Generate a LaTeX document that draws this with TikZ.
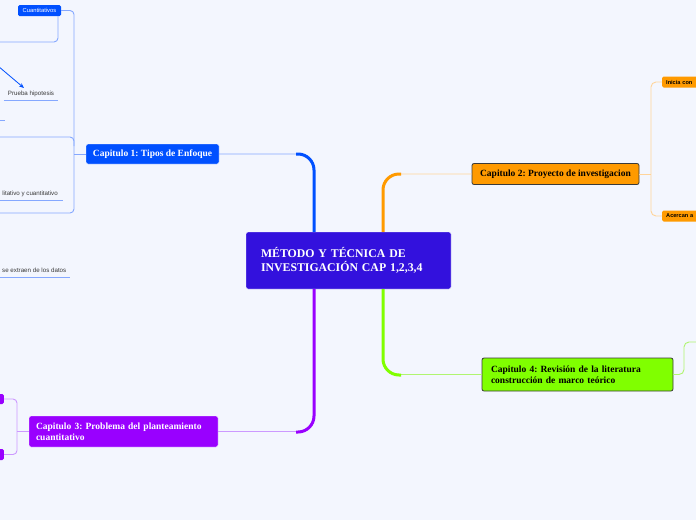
\documentclass[tikz,border=0pt]{standalone}
\usepackage{fontspec}
\setmainfont{Liberation Serif}
\newfontfamily\labfont{Liberation Sans}
\usetikzlibrary{calc,arrows.meta}
\definecolor{bg}{HTML}{F3F6FE}
\definecolor{cent}{HTML}{3311DD}
\definecolor{cblue}{HTML}{0050FF}
\definecolor{lblue}{HTML}{85A8FF}
\definecolor{corange}{HTML}{FF9A00}
\definecolor{lorange}{HTML}{FFD49A}
\definecolor{clime}{HTML}{80FF00}
\definecolor{llime}{HTML}{B0F570}
\definecolor{cpurple}{HTML}{9900FF}
\definecolor{lpurple}{HTML}{CC99FF}
\definecolor{labgray}{HTML}{3A3A3A}
\frenchspacing
\tikzset{
  chapbox/.style={rounded corners=2pt, inner sep=0pt, font=\frenchspacing\bfseries\fontsize{9.5}{11}\selectfont},
  smallbox/.style={rounded corners=1.5pt, inner sep=0pt, font=\labfont\bfseries\fontsize{5.6}{6.5}\selectfont},
  leaflab/.style={inner sep=0pt, font=\labfont\fontsize{6.2}{7}\selectfont, text=labgray},
  thinline/.style={line width=0.9pt},
  thickline/.style={line width=3pt, rounded corners=16pt},
}
\begin{document}
\begin{tikzpicture}[x=1pt,y=-1pt]
\fill[bg] (0,0) rectangle (696,520);
\useasboundingbox (0,0) rectangle (696,520);

% central node
\node[rounded corners=2pt, fill=cent, draw=white, line width=0.4pt, minimum width=205pt, minimum height=57pt,
      text width=175pt, align=left, text=white, inner xsep=15pt,
      font=\frenchspacing\bfseries\fontsize{11.8}{14}\selectfont] (c) at (348.5,260.5)
      {MÉTODO Y TÉCNICA DE\\INVESTIGACIÓN CAP 1,2,3,4};

% chapter nodes
\node[chapbox, fill=cblue, draw=white, line width=0.4pt, text=white, minimum width=133pt, minimum height=20pt] (c1) at (152.5,154) {Capitulo 1: Tipos de Enfoque};
\node[chapbox, fill=corange, draw=labgray, line width=0.8pt, text=black, minimum width=167pt, minimum height=21pt] (c2) at (555.5,174) {Capitulo 2: Proyecto de investigacion};
\node[chapbox, fill=cpurple, draw=white, line width=0.4pt, text=white, minimum width=189pt, minimum height=31pt, text width=175pt, align=left] (c3) at (123.5,431.5) {Capitulo 3: Problema del planteamiento\\cuantitativo};
\node[chapbox, fill=clime, draw=labgray, line width=0.8pt, text=black, minimum width=191pt, minimum height=33pt, text width=173pt, align=left] (c4) at (577.5,374.5) {Capitulo 4: Revisión de la literatura\\construcción de marco teórico};

% junction coordinates
\coordinate (j1) at (314,154);
\coordinate (j2) at (383,174);
\coordinate (k1) at (296,154);
\coordinate (k2) at (401,174);
\coordinate (k3) at (296,432);
\coordinate (k4) at (401,375);

% main connectors (thin light part)
\draw[lblue, thinline, rounded corners=16pt] (c1.east) -| (c.north -| j1);
\draw[lorange, thinline, rounded corners=16pt] (c2.west) -| (c.north -| j2);
\draw[lpurple, thinline, rounded corners=16pt] (c3.east) -| (c.south -| j1);
\draw[llime, thinline, rounded corners=16pt] (c4.west) -| (c.south -| j2);
% main connectors (thick part)
\draw[cblue, thickline] (c.north -| j1) |- (k1);
\draw[corange, thickline] (c.north -| j2) |- (k2);
\draw[cpurple, thickline] (c.south -| j1) |- (k3);
\draw[clime, thickline] (c.south -| j2) |- (k4);

% ---- Chapter 1 subtree ----
\node[smallbox, fill=cblue, text=white, font=\labfont\fontsize{5.8}{6.5}\selectfont, minimum width=43pt, minimum height=11pt] (q) at (39.5,10.5) {Cuantitativos};
\coordinate (b1top) at (74,10.5);
\coordinate (b1bot) at (74,213);
\coordinate (m1) at (-5,213);
\coordinate (m2) at (-5,137);
\coordinate (q1) at (58,16);
\coordinate (q2) at (-5,42);
\draw[lblue, thinline] (c1.west) -- (c1.west -| b1top);
\draw[lblue, thinline, rounded corners=4pt] (q.east) -- (b1top) -- (b1bot) -- (m1);
\draw[lblue, thinline, rounded corners=4pt] (m2) -- (74,137) -- (74,146);
\draw[lblue, thinline, rounded corners=4pt] (q1) -- (58,42) -- (q2);

\coordinate (a0) at (-2,66);
\coordinate (a1) at (24,88);
\draw[cblue, line width=0.8pt, -{Stealth[length=5pt,width=4pt]}] (a0) -- (a1);

\node[leaflab, minimum width=54pt, minimum height=12pt] (ph) at (31,94) {Prueba hipotesis};
\draw[lblue, thinline] (ph.south west) -- (ph.south east);

\coordinate (s0) at (-2,120);
\coordinate (s1) at (5,120);
\draw[lblue, thinline] (s0) -- (s1);

\node[leaflab, anchor=east] (mx) at (58,193.5) {litativo y cuantitativo};
\coordinate (u0) at (-2,200);
\coordinate (u1) at (63,200);
\draw[lblue, thinline] (u0) -- (u1);

\node[leaflab, anchor=west] (ex) at (2,270.5) {se extraen de los datos};
\coordinate (v0) at (-2,277);
\coordinate (v1) at (70,277);
\draw[lblue, thinline] (v0) -- (v1);

% ---- Chapter 2 subtree ----
\node[smallbox, fill=corange, text=black, minimum height=11pt, minimum width=44pt, anchor=west, inner xsep=3.5pt, text width=36pt, align=left] (i1) at (662,82) {Inicia con};
\node[smallbox, fill=corange, text=black, minimum height=11pt, minimum width=44pt, anchor=west, inner xsep=3.5pt, text width=36pt, align=left] (i2) at (662,216) {Acercan a};
\coordinate (b2) at (651,0);
\draw[lorange, thinline] (c2.east) -- (c2.east -| b2);
\draw[lorange, thinline, rounded corners=5pt] (i1.west) -- (i1.west -| b2) -- (i2.west -| b2) -- (i2.west);

% ---- Chapter 4 subtree ----
\coordinate (b4) at (684,342);
\coordinate (e4) at (700,342);
\draw[llime, thinline, rounded corners=5pt] (c4.east) -- (c4.east -| b4) -- (b4) -- (e4);

% ---- Chapter 3 subtree ----
\node[smallbox, fill=cpurple, minimum width=10pt, minimum height=10pt, anchor=east] (p1) at (4,399) {};
\node[smallbox, fill=cpurple, minimum width=10pt, minimum height=11pt, anchor=east] (p2) at (4,454.5) {};
\coordinate (b3) at (17,0);
\draw[lpurple, thinline] (c3.west) -- (c3.west -| b3);
\draw[lpurple, thinline, rounded corners=4pt] (p1.east) -- (p1.east -| b3) -- (p2.east -| b3) -- (p2.east);
\end{tikzpicture}
\end{document}
